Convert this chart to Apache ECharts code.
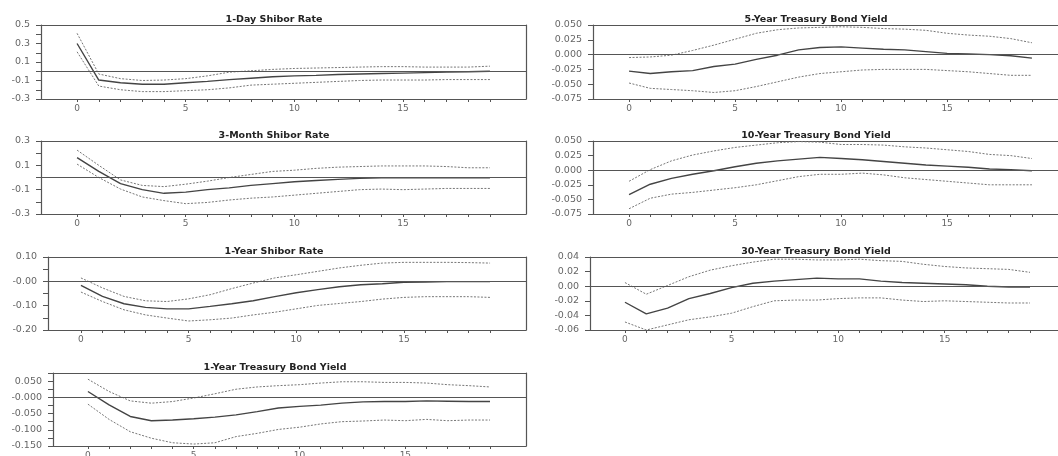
<!DOCTYPE html>
<html>
<head>
<meta charset="utf-8">
<title>Impulse responses</title>
<script src="https://cdn.jsdelivr.net/npm/echarts@6/dist/echarts.min.js"></script>
<style>
    html, body { margin: 0; padding: 0; background: #fff; }
    #irfChart { width: 1058px; height: 456px; }
</style>
</head>
<body>
<div id="irfChart"></div>
<script>
(function (window, document) {
    "use strict";

    // ---- data ----
    const horizons = [0, 1, 2, 3, 4, 5, 6, 7, 8, 9, 10, 11, 12, 13, 14, 15, 16, 17, 18, 19];
    const xTickLabels = [0, 5, 10, 15];

    const oneDayMean  = [0.30, -0.095, -0.125, -0.14, -0.14, -0.125, -0.11, -0.09, -0.075, -0.06, -0.05, -0.045, -0.035, -0.03, -0.025, -0.02, -0.015, -0.01, -0.005, 0.0];
    const oneDayUpper = [0.41, -0.03, -0.08, -0.10, -0.095, -0.08, -0.05, -0.01, 0.005, 0.02, 0.03, 0.035, 0.04, 0.045, 0.05, 0.05, 0.045, 0.045, 0.045, 0.055];
    const oneDayLower = [0.21, -0.16, -0.20, -0.22, -0.22, -0.21, -0.20, -0.18, -0.15, -0.14, -0.13, -0.12, -0.11, -0.10, -0.095, -0.095, -0.095, -0.09, -0.09, -0.09];
    const oneDayTicks = ["0.5", "0.3", "0.1", "-0.1", "-0.3"];

    const threeMonthMean  = [0.163, 0.05, -0.05, -0.10, -0.13, -0.12, -0.10, -0.085, -0.065, -0.05, -0.035, -0.025, -0.015, -0.007, -0.003, -0.002, -0.002, -0.002, -0.002, -0.002];
    const threeMonthUpper = [0.225, 0.10, -0.02, -0.065, -0.075, -0.055, -0.03, 0.0, 0.025, 0.05, 0.06, 0.075, 0.085, 0.09, 0.095, 0.095, 0.095, 0.09, 0.08, 0.08];
    const threeMonthLower = [0.11, 0.0, -0.095, -0.16, -0.19, -0.215, -0.205, -0.185, -0.17, -0.16, -0.145, -0.13, -0.115, -0.10, -0.095, -0.10, -0.095, -0.09, -0.09, -0.09];
    const threeMonthTicks = ["0.3", "0.1", "-0.1", "-0.3"];

    const oneYearShiborMean  = [-0.017, -0.062, -0.092, -0.107, -0.113, -0.113, -0.103, -0.092, -0.08, -0.063, -0.047, -0.034, -0.022, -0.014, -0.01, -0.004, -0.003, -0.001, -0.001, -0.001];
    const oneYearShiborUpper = [0.014, -0.027, -0.062, -0.08, -0.083, -0.072, -0.055, -0.03, -0.007, 0.014, 0.027, 0.041, 0.055, 0.066, 0.075, 0.078, 0.078, 0.078, 0.077, 0.075];
    const oneYearShiborLower = [-0.044, -0.083, -0.117, -0.138, -0.151, -0.163, -0.158, -0.151, -0.138, -0.127, -0.113, -0.099, -0.091, -0.083, -0.073, -0.066, -0.063, -0.063, -0.063, -0.066];
    const oneYearShiborTicks = ["0.10", "-0.00", "-0.10", "-0.20"];

    const oneYearBondMean  = [0.018, -0.023, -0.059, -0.072, -0.07, -0.066, -0.061, -0.054, -0.044, -0.033, -0.028, -0.024, -0.018, -0.014, -0.013, -0.013, -0.011, -0.012, -0.013, -0.013];
    const oneYearBondUpper = [0.056, 0.018, -0.011, -0.018, -0.013, -0.002, 0.011, 0.025, 0.032, 0.036, 0.039, 0.044, 0.048, 0.048, 0.046, 0.046, 0.044, 0.039, 0.036, 0.032];
    const oneYearBondLower = [-0.021, -0.068, -0.106, -0.126, -0.14, -0.144, -0.14, -0.121, -0.111, -0.099, -0.092, -0.082, -0.075, -0.073, -0.07, -0.072, -0.068, -0.072, -0.07, -0.07];
    const oneYearBondTicks = ["0.050", "-0.000", "-0.050", "-0.100", "-0.150"];

    const fiveYearMean  = [-0.028, -0.032, -0.029, -0.027, -0.020, -0.016, -0.008, -0.001, 0.008, 0.012, 0.013, 0.011, 0.009, 0.008, 0.005, 0.002, 0.001, 0.0, -0.002, -0.006];
    const fiveYearUpper = [-0.005, -0.004, -0.001, 0.007, 0.016, 0.026, 0.036, 0.042, 0.045, 0.046, 0.047, 0.046, 0.044, 0.043, 0.041, 0.036, 0.033, 0.031, 0.027, 0.020];
    const fiveYearLower = [-0.048, -0.057, -0.059, -0.061, -0.064, -0.061, -0.054, -0.046, -0.038, -0.032, -0.029, -0.026, -0.025, -0.025, -0.025, -0.027, -0.029, -0.032, -0.035, -0.035];
    const fiveYearTicks = ["0.050", "0.025", "0.000", "-0.025", "-0.050", "-0.075"];

    const tenYearMean  = [-0.042, -0.024, -0.014, -0.007, -0.001, 0.006, 0.012, 0.016, 0.019, 0.022, 0.020, 0.018, 0.015, 0.012, 0.009, 0.007, 0.005, 0.002, 0.001, -0.001];
    const tenYearUpper = [-0.019, 0.001, 0.016, 0.026, 0.033, 0.039, 0.043, 0.047, 0.049, 0.048, 0.044, 0.044, 0.043, 0.040, 0.038, 0.035, 0.032, 0.027, 0.025, 0.020];
    const tenYearLower = [-0.066, -0.048, -0.041, -0.038, -0.034, -0.030, -0.025, -0.018, -0.011, -0.007, -0.007, -0.005, -0.008, -0.013, -0.016, -0.019, -0.022, -0.025, -0.025, -0.025];
    const tenYearTicks = ["0.050", "0.025", "0.000", "-0.025", "-0.050", "-0.075"];

    const thirtyYearMean  = [-0.022, -0.038, -0.030, -0.017, -0.010, -0.002, 0.004, 0.007, 0.009, 0.011, 0.010, 0.010, 0.007, 0.005, 0.004, 0.003, 0.002, 0.0, -0.001, -0.001];
    const thirtyYearUpper = [0.005, -0.011, 0.001, 0.013, 0.022, 0.028, 0.033, 0.037, 0.037, 0.036, 0.036, 0.037, 0.035, 0.034, 0.030, 0.027, 0.025, 0.024, 0.023, 0.019];
    const thirtyYearLower = [-0.049, -0.060, -0.053, -0.046, -0.042, -0.037, -0.028, -0.020, -0.019, -0.019, -0.017, -0.016, -0.016, -0.019, -0.021, -0.020, -0.021, -0.022, -0.023, -0.023];
    const thirtyYearTicks = ["0.04", "0.02", "0.00", "-0.02", "-0.04", "-0.06"];

    // ---- panels: data + value range ----
    const PANELS = [
        { title: "1-Day Shibor Rate", mean: oneDayMean, upper: oneDayUpper, lower: oneDayLower, labels: oneDayTicks, min: -0.3, max: 0.5, step: 0.1 },
        { title: "3-Month Shibor Rate", mean: threeMonthMean, upper: threeMonthUpper, lower: threeMonthLower, labels: threeMonthTicks, min: -0.3, max: 0.3, step: 0.1 },
        { title: "1-Year Shibor Rate", mean: oneYearShiborMean, upper: oneYearShiborUpper, lower: oneYearShiborLower, labels: oneYearShiborTicks, min: -0.2, max: 0.1, step: 0.05 },
        { title: "1-Year Treasury Bond Yield", mean: oneYearBondMean, upper: oneYearBondUpper, lower: oneYearBondLower, labels: oneYearBondTicks, min: -0.15, max: 0.075, step: 0.025 },
        { title: "5-Year Treasury Bond Yield", mean: fiveYearMean, upper: fiveYearUpper, lower: fiveYearLower, labels: fiveYearTicks, min: -0.075, max: 0.05, step: 0.025 },
        { title: "10-Year Treasury Bond Yield", mean: tenYearMean, upper: tenYearUpper, lower: tenYearLower, labels: tenYearTicks, min: -0.075, max: 0.05, step: 0.025 },
        { title: "30-Year Treasury Bond Yield", mean: thirtyYearMean, upper: thirtyYearUpper, lower: thirtyYearLower, labels: thirtyYearTicks, min: -0.06, max: 0.04, step: 0.02 }
    ];

    // ---- layout (pixels): box left/right, where h=0 and h=19 sit, top, height ----
    const LAYOUT = [
        { left: 41, right: 526, x0: 77, x19: 490, top: 25, height: 74, titleX: 269 },
        { left: 41, right: 526, x0: 77, x19: 490, top: 141, height: 73, titleX: 269 },
        { left: 48, right: 526, x0: 81, x19: 490, top: 257, height: 73, titleX: 269 },
        { left: 53, right: 526, x0: 88, x19: 490, top: 373, height: 73, titleX: 270 },
        { left: 593, right: 1072, x0: 629, x19: 1032, top: 25, height: 74, titleX: 811 },
        { left: 593, right: 1072, x0: 629, x19: 1032, top: 141, height: 73, titleX: 811 },
        { left: 590, right: 1072, x0: 625, x19: 1030, top: 257, height: 73, titleX: 811 }
    ];
    const FONT = "DejaVu Sans";
    const INK = "#555";

    function xRange(l) {
        const unit = (l.x19 - l.x0) / 19;
        return {
            min: +(-(l.x0 - l.left) / unit).toFixed(2),
            max: +(19 + (l.right - l.x19) / unit).toFixed(2)
        };
    }

    // top / right side of the box: bare axis lines, nothing else
    function frameAxis(i, position) {
        return {
            type: "value", gridIndex: i, min: 0, max: 1, position,
            axisLine: { show: true, onZero: false, lineStyle: { color: INK, width: 1.2 } },
            axisTick: { show: false }, axisLabel: { show: false }, splitLine: { show: false }
        };
    }

    function buildOption() {
        const grid = [], xAxis = [], yAxis = [], series = [], title = [];
        const frameX = [], frameY = [];

        PANELS.forEach((p, i) => {
            const l = LAYOUT[i];
            const xr = xRange(l);
            const labelVals = p.labels.map(s => parseFloat(s));

            // no grid border: the box is drawn by the four axis lines
            grid.push({
                left: l.left, top: l.top, width: l.right - l.left, height: l.height,
                show: false, outerBoundsMode: "none"
            });
            title.push({
                text: p.title, left: l.titleX, top: l.top - 15, textAlign: "center",
                textStyle: { fontFamily: FONT, fontSize: 9.5, fontWeight: "bold", color: "#222" }
            });
            frameX.push(frameAxis(i, "top"));
            frameY.push(frameAxis(i, "right"));

            xAxis.push({
                type: "value", gridIndex: i, min: xr.min, max: xr.max, position: "bottom",
                axisLine: { show: true, onZero: false, lineStyle: { color: INK, width: 1.2 } },
                splitLine: { show: false },
                axisTick: { show: true, inside: false, length: 3, customValues: horizons, lineStyle: { color: INK, width: 1 } },
                axisLabel: {
                    show: true, customValues: xTickLabels, margin: 5,
                    fontFamily: FONT, fontSize: 9, color: "#666"
                }
            });
            // ticks every step from min (min is a multiple of step); only some carry a label
            yAxis.push({
                type: "value", gridIndex: i, min: p.min, max: p.max, interval: p.step, position: "left",
                axisLine: { show: true, onZero: false, lineStyle: { color: INK, width: 1.2 } },
                splitLine: { show: false },
                axisTick: { show: true, inside: false, length: 5, lineStyle: { color: INK, width: 1 } },
                axisLabel: {
                    show: true, margin: 11, showMinLabel: true, showMaxLabel: true,
                    fontFamily: FONT, fontSize: 9.5, color: "#666",
                    formatter: v => {
                        const k = labelVals.findIndex(x => Math.abs(x - v) < 1e-6);
                        return k >= 0 ? p.labels[k] : "";
                    }
                }
            });

            const band = (name, vals) => ({
                name, type: "line", xAxisIndex: i, yAxisIndex: i,
                data: horizons.map((h, k) => [h, vals[k]]),
                symbol: "none", silent: true,
                lineStyle: { color: "#777", width: 1, type: [2, 1.5] }
            });
            series.push(band("upper", p.upper));
            series.push(band("lower", p.lower));
            series.push({
                name: "response", type: "line", xAxisIndex: i, yAxisIndex: i,
                data: horizons.map((h, k) => [h, p.mean[k]]),
                symbol: "none", silent: true,
                lineStyle: { color: "#444", width: 1.4 },
                markLine: {
                    silent: true, symbol: "none", label: { show: false },
                    lineStyle: { color: INK, width: 1.1, type: "solid" },
                    data: [{ yAxis: 0 }]
                }
            });
        });

        return {
            animation: false, backgroundColor: "#fff", title, grid,
            xAxis: xAxis.concat(frameX), yAxis: yAxis.concat(frameY), series
        };
    }

    function init() {
        const el = document.getElementById("irfChart");
        if (!el || !window.echarts) return;
        const chart = echarts.init(el, null, { renderer: "canvas" });
        chart.setOption(buildOption());
        window.addEventListener("resize", () => chart.resize());
    }

    init();
})(window, document);
</script>
</body>
</html>
